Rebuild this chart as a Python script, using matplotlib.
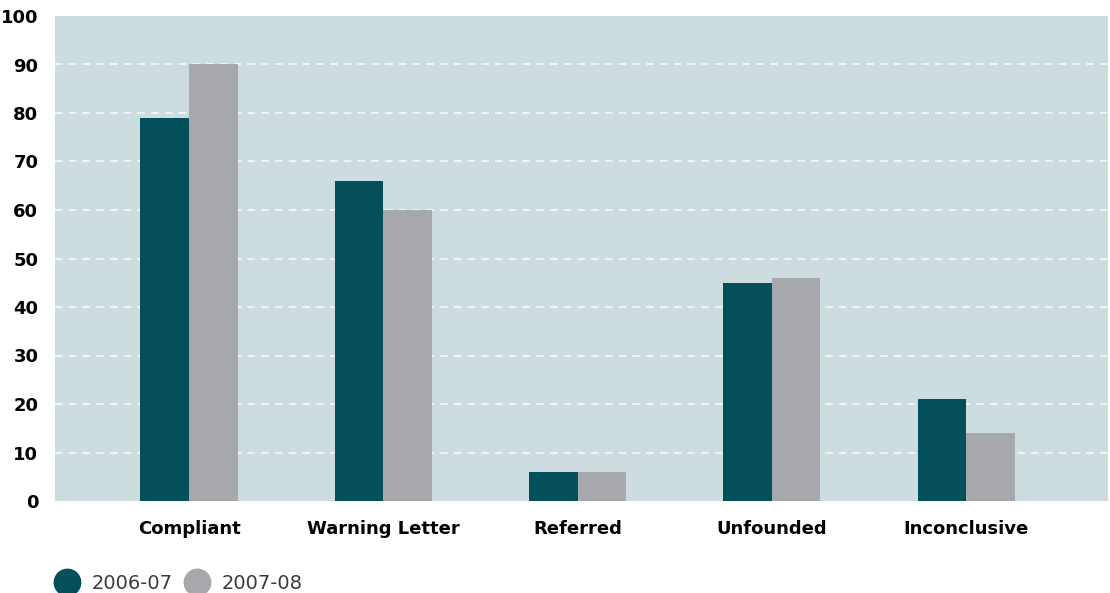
import matplotlib
matplotlib.use("Agg")
import matplotlib.pyplot as plt
import numpy as np
from matplotlib.lines import Line2D

categories = ["Compliant", "Warning Letter", "Referred", "Unfounded", "Inconclusive"]
series_names = ["2006-07", "2007-08"]
values_0607 = [79, 66, 6, 45, 21]
values_0708 = [90, 60, 6, 46, 14]
yticks = [0, 10, 20, 30, 40, 50, 60, 70, 80, 90, 100]

DARK = "#034f5a"
GREY = "#a7a8ab"
BG = "#cddcdf"

plt.rcParams["font.family"] = ["DejaVu Sans"]

fig = plt.figure(figsize=(11.10, 5.93), dpi=100)
ax = fig.add_axes([55 / 1110, 92 / 593, 1053 / 1110, 485 / 593])
ax.set_facecolor(BG)

x = np.arange(len(categories))
w = 0.25
ax.bar(x - w / 2, values_0607, w, color=DARK, zorder=3)
ax.bar(x + w / 2, values_0708, w, color=GREY, zorder=3)

ax.set_xlim(-0.69, 4.73)
ax.set_ylim(0, 100)
ax.set_yticks(yticks)
ax.set_yticklabels([str(t) for t in yticks], fontsize=13, fontweight="bold")
ax.set_xticks(x)
ax.set_xticklabels(categories, fontsize=13, fontweight="bold")
ax.tick_params(axis="both", length=0)
ax.tick_params(axis="x", pad=14)
ax.tick_params(axis="y", pad=12)
ax.grid(axis="y", color="white", linestyle=(0, (5, 4)), linewidth=1.1, alpha=0.9, zorder=1)
gl = ax.get_ygridlines()
gl[0].set_visible(False)
gl[-1].set_visible(False)
ax.set_axisbelow(True)
for s in ax.spines.values():
    s.set_visible(False)

handles = [Line2D([], [], marker="o", linestyle="", markersize=19, color=c)
           for c in (DARK, GREY)]
fig.legend(handles, series_names, loc="lower left", bbox_to_anchor=(0.027, -0.03),
           ncol=2, frameon=False, handletextpad=0.25, columnspacing=0.3,
           labelcolor="#3a3a3a", prop={"size": 14})

fig.savefig("out.png", dpi=100)
